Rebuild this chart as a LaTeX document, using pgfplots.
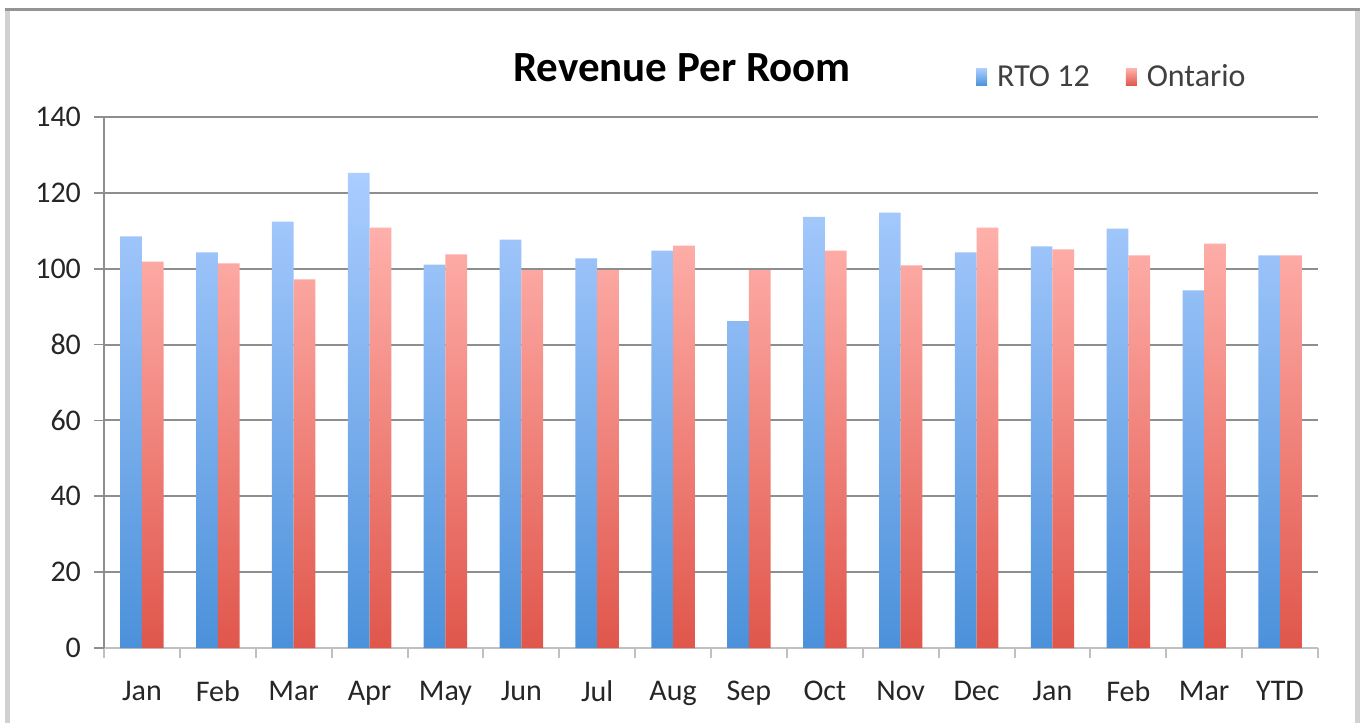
\documentclass[border=0pt]{standalone}
\usepackage{pgfplots}
\pgfplotsset{compat=1.18}
\usepackage{fontspec}
\setmainfont{Carlito}
\definecolor{bluetop}{HTML}{ABCDFF}
\definecolor{bluebot}{HTML}{4B91DA}
\definecolor{redtop}{HTML}{FFB0AB}
\definecolor{redbot}{HTML}{E0564B}
\definecolor{gridc}{HTML}{8E8E8E}
\definecolor{xaxc}{HTML}{C0C0C0}
\definecolor{txt}{HTML}{262626}
\definecolor{legtxt}{HTML}{404040}
\begin{document}
\begin{tikzpicture}
\path[use as bounding box] (0,0) rectangle (681.5pt,361.5pt);
\draw[color=black!18, line width=2.5pt] (3.5pt,0) -- (3.5pt,357pt);
\draw[color=black!18, line width=2.5pt] (678.8pt,0) -- (678.8pt,357pt);
\draw[color=black!42, line width=1.5pt] (2.3pt,356.6pt) -- (680pt,356.6pt);
\begin{axis}[
  at={(52pt,37.5pt)}, anchor=south west,
  scale only axis, width=607pt, height=265.5pt,
  ymin=0, ymax=140, ytick={0,20,...,140},
  xmin=-0.5, xmax=15.5,
  xtick={0,...,15},
  xticklabels={Jan,Feb,Mar,Apr,May,Jun,Jul,Aug,Sep,Oct,Nov,Dec,Jan,Feb,Mar,YTD},
  minor xtick={-0.5,0.5,...,15.5},
  major x tick style={draw=none},
  minor x tick style={color=xaxc, line width=1pt},
  minor tick length=5pt,
  major tick length=5pt,
  tick align=outside,
  /pgf/number format/assume math mode=true,
  axis x line*=bottom, axis y line*=left,
  x axis line style={color=xaxc, line width=1.2pt, -},
  y axis line style={color=gridc, line width=0.9pt, -},
  ytick style={color=gridc, line width=0.9pt},
  ymajorgrids, grid style={color=gridc, line width=1pt},
  ticklabel style={font=\fontsize{15}{18}\selectfont, text=txt},
  xticklabel style={yshift=-8pt},
  yticklabel style={xshift=-3pt},
  ybar=0pt, bar width=10.85pt,
  legend style={at={(0.831,1.075)}, anchor=center, draw=none, fill=none,
    legend columns=2, font=\fontsize{16}{19}\selectfont, text=legtxt,
    /tikz/every odd column/.append style={column sep=3pt},
    /tikz/every even column/.append style={column sep=16pt}},
]
\addplot[draw=none, top color=bluetop, bottom color=bluebot, legend image code/.code={\shade[top color=bluetop, bottom color=bluebot] (0pt,-4.3pt) rectangle (5.5pt,4.3pt);}] coordinates {
(0,108.5) (1,104.3) (2,112.4) (3,125.3) (4,101.1) (5,107.7) (6,102.7) (7,104.8)
(8,86.2) (9,113.7) (10,114.8) (11,104.3) (12,105.9) (13,110.6) (14,94.3) (15,103.5)};
\addlegendentry{RTO 12}
\addplot[draw=none, top color=redtop, bottom color=redbot, legend image code/.code={\shade[top color=redtop, bottom color=redbot] (0pt,-4.3pt) rectangle (5.5pt,4.3pt);}] coordinates {
(0,101.9) (1,101.4) (2,97.2) (3,110.8) (4,103.8) (5,99.6) (6,99.6) (7,106.1)
(8,99.6) (9,104.8) (10,100.9) (11,110.8) (12,105.1) (13,103.5) (14,106.6) (15,103.5)};
\addlegendentry{Ontario}
\end{axis}
\node[font=\fontsize{21.5}{25}\selectfont\bfseries, text=black] at (341pt,327.5pt) {Revenue Per Room};
\end{tikzpicture}
\end{document}
